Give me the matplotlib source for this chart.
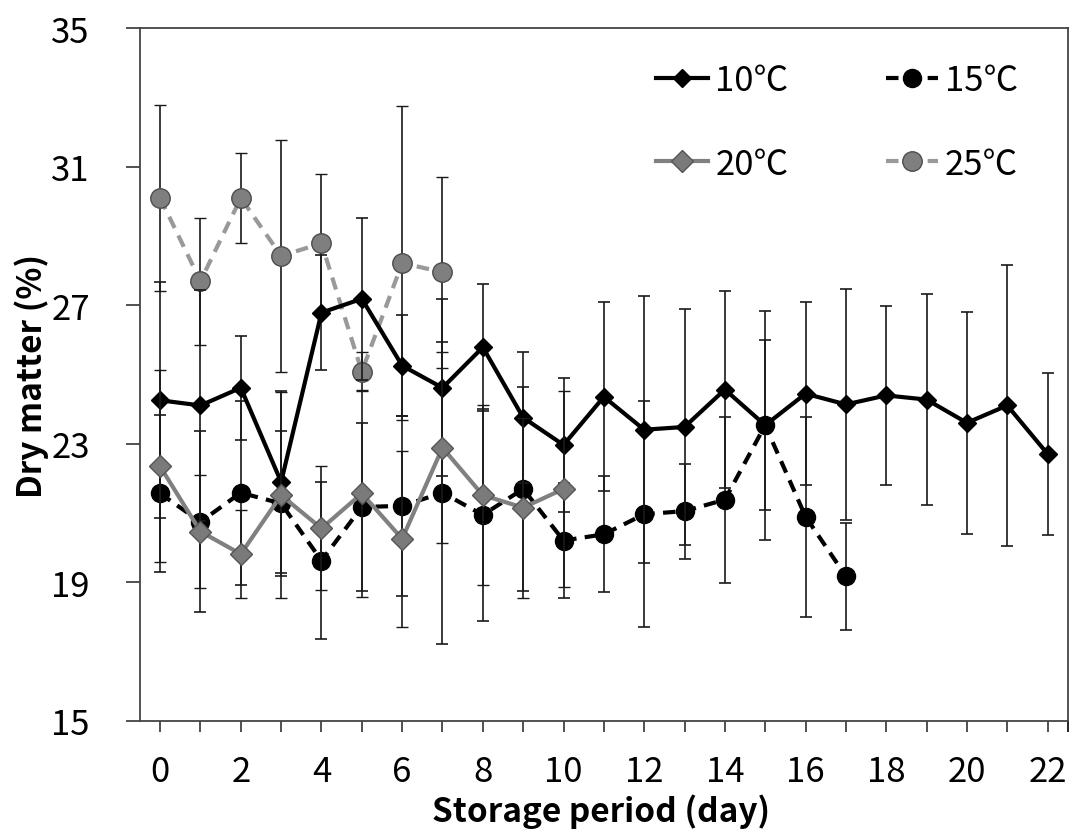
import matplotlib
matplotlib.use('Agg')
import matplotlib.pyplot as plt
from matplotlib.lines import Line2D

plt.rcParams['font.family'] = ['Noto Sans CJK KR', 'DejaVu Sans']

# data
days_10 = list(range(0, 23))
dm_10 = [24.26, 24.11, 24.62, 21.90, 26.79, 27.19, 25.26, 24.62, 25.79, 23.76, 22.97,
         24.36, 23.41, 23.49, 24.57, 23.54, 24.45, 24.14, 24.40, 24.28, 23.61, 24.11, 22.71]
err_10 = [3.41, 3.33, 1.50, 2.64, 1.66, 2.34, 1.46, 2.56, 1.83, 1.90, 1.93,
          2.73, 3.85, 3.40, 2.84, 3.30, 2.65, 3.33, 2.59, 3.05, 3.20, 4.07, 2.35]

days_15 = list(range(0, 18))
dm_15 = [21.57, 20.75, 21.59, 21.28, 19.63, 21.18, 21.21, 21.59, 20.95, 21.70, 20.21,
         20.39, 20.97, 21.06, 21.39, 23.54, 20.90, 19.18]
err_15 = [2.26, 2.61, 2.65, 2.08, 2.27, 2.43, 2.59, 4.36, 3.05, 2.95, 1.65,
          1.67, 3.27, 1.37, 2.40, 2.45, 2.89, 1.55]

days_20 = list(range(0, 11))
dm_20 = [22.35, 20.47, 19.82, 21.52, 20.56, 21.57, 20.26, 22.89, 21.52, 21.16, 21.70]
err_20 = [2.77, 1.62, 1.27, 2.97, 1.79, 3.00, 2.54, 2.75, 2.60, 2.60, 2.82]

days_25 = list(range(0, 8))
dm_25 = [30.10, 27.70, 30.10, 28.43, 28.79, 25.09, 28.22, 27.96]
err_25 = [2.69, 1.83, 1.31, 3.35, 2.00, 0.55, 4.54, 2.76]

fig = plt.figure(figsize=(10.7, 8.37), dpi=100)
ax = fig.add_axes([0.1308, 0.1374, 0.8671, 0.8276])

eb = dict(ecolor='#1a1a1a', elinewidth=1.2, capsize=4, capthick=1.2)

s10 = dict(color='black', lw=3, marker='D', ms=9, mfc='black', mec='black')
s15 = dict(color='black', lw=3, ls=(0, (3, 2)), marker='o', ms=13, mfc='black', mec='black')
s20 = dict(color='#808080', lw=3, marker='D', ms=11, mfc='#7a7a7a', mec='#555555', mew=1)
s25 = dict(color='#999999', lw=3, ls=(0, (3, 2)), marker='o', ms=14, mfc='#7f7f7f', mec='#4d4d4d', mew=1)

ax.errorbar(days_10, dm_10, yerr=err_10, zorder=4, **s10, **eb)
ax.errorbar(days_15, dm_15, yerr=err_15, zorder=3, **s15, **eb)
ax.errorbar(days_20, dm_20, yerr=err_20, zorder=5, **s20, **eb)
ax.errorbar(days_25, dm_25, yerr=err_25, zorder=2, **s25, **eb)

ax.set_xlim(-0.5, 22.5)
ax.set_ylim(15, 35)
ax.set_yticks([15, 19, 23, 27, 31, 35])
ax.set_xticks(range(0, 23))
ax.set_xticklabels([str(d) if d % 2 == 0 else '' for d in range(0, 23)])
ax.set_xticks([22.5], minor=True)

ax.tick_params(axis='both', direction='out', labelsize=25, colors='#333333', labelcolor='black')
ax.tick_params(axis='y', length=10, width=1.2, pad=26)
ax.tick_params(axis='x', which='both', length=8, width=1.2, pad=16)
for s in ax.spines.values():
    s.set_color('#444444')
    s.set_linewidth(1.3)

ax.set_xlabel('Storage period (day)', fontsize=24, fontweight='bold')
ax.set_ylabel('Dry matter (%)', fontsize=24, fontweight='bold')
ax.xaxis.set_label_coords(0.497, -0.104)
ax.yaxis.set_label_coords(-0.098, 0.50)

labels = ['10℃', '20℃', '15℃', '25℃']
handles = [Line2D([], [], **s10), Line2D([], [], **s20), Line2D([], [], **s15), Line2D([], [], **s25)]
ax.legend(handles, labels, ncol=2, frameon=False, loc='upper right',
          bbox_to_anchor=(0.98, 0.995), fontsize=25, handlelength=1.5,
          handletextpad=0.2, columnspacing=2.8, labelspacing=1.4)

fig.savefig('out.png', dpi=100)
